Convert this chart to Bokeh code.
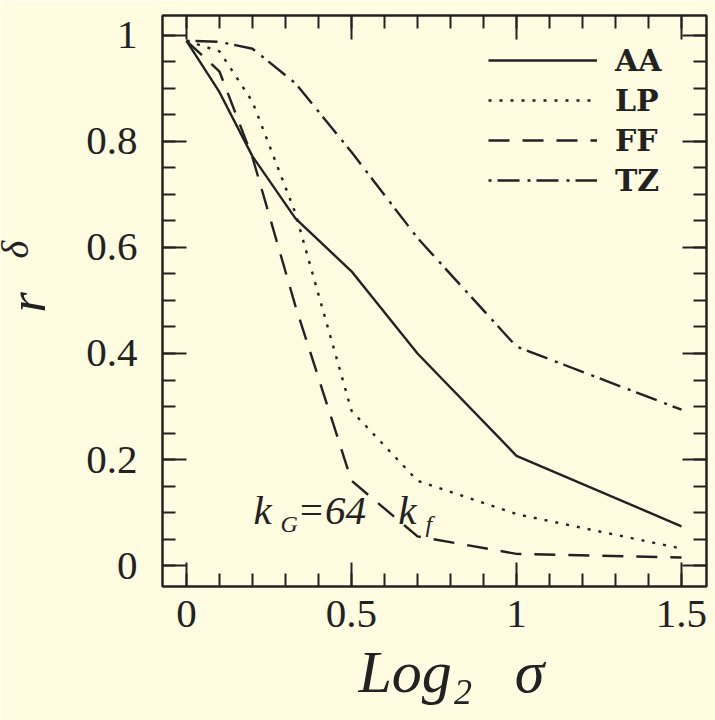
from bokeh.plotting import figure
from bokeh.models import Range1d, FixedTicker, LinearAxis, Label, Legend, LegendItem, Title
from bokeh.embed import file_html
from bokeh.resources import INLINE
import math

# Smoothing scale (log2 sigma) and the cross-correlation coefficient r_delta
log2_sigma = [0.0, 0.1, 0.2, 0.33, 0.5, 0.7, 1.0, 1.5]
r_aa = [0.99, 0.893, 0.772, 0.655, 0.555, 0.400, 0.207, 0.074]
r_lp = [0.99, 0.970, 0.875, 0.665, 0.292, 0.160, 0.097, 0.032]
r_ff = [0.99, 0.932, 0.770, 0.490, 0.160, 0.055, 0.022, 0.015]
r_tz = [0.99, 0.988, 0.975, 0.910, 0.780, 0.618, 0.413, 0.294]

series_names = ["AA", "LP", "FF", "TZ"]
series_values = [r_aa, r_lp, r_ff, r_tz]
series_dash = ["solid", "3 8", "21 13", "3 6 22 8"]

x_major = [0, 0.5, 1, 1.5]
x_minor = [i / 10 for i in range(16)]
y_major = [0, 0.2, 0.4, 0.6, 0.8, 1.0]
y_minor = [i / 20 for i in range(21)]
x_tick_labels = {0: "0", 0.5: "0.5", 1: "1", 1.5: "1.5"}
y_tick_labels = {0: "0", 0.2: "0.2", 0.4: "0.4", 0.6: "0.6", 0.8: "0.8", 1: "1"}

INK = "#222222"
PAPER = "#FFFCE1"
SERIF = "Liberation Serif"

p = figure(
    width=715, height=720,
    x_range=Range1d(-0.0727, 1.5758), y_range=Range1d(-0.0396, 1.0377),
    output_backend="svg", toolbar_location=None,
    min_border_left=162, min_border_right=9, min_border_top=15, min_border_bottom=134,
)
p.background_fill_color = PAPER
p.border_fill_color = PAPER
p.outline_line_color = INK
p.outline_line_width = 2
p.grid.visible = False


def style_axis(ax, ticker, labels, show_labels):
    ax.ticker = ticker
    ax.axis_line_color = INK
    ax.axis_line_width = 2
    ax.major_tick_in = 24
    ax.major_tick_out = 0
    ax.minor_tick_in = 13
    ax.minor_tick_out = 0
    ax.major_tick_line_color = INK
    ax.major_tick_line_width = 2
    ax.minor_tick_line_color = INK
    ax.minor_tick_line_width = 2
    if show_labels:
        ax.major_label_overrides = labels
        ax.major_label_text_font = SERIF
        ax.major_label_text_font_size = "41px"
        ax.major_label_text_color = INK
    else:
        ax.major_label_text_color = None
        ax.major_label_text_font_size = "1px"
        ax.major_label_standoff = 0


xt = FixedTicker(ticks=x_major, minor_ticks=x_minor)
yt = FixedTicker(ticks=y_major, minor_ticks=y_minor)

style_axis(p.xaxis[0], xt, x_tick_labels, True)
p.xaxis[0].major_label_standoff = 14
style_axis(p.yaxis[0], yt, y_tick_labels, True)
p.yaxis[0].major_label_standoff = 25

top_axis = LinearAxis()
style_axis(top_axis, xt, x_tick_labels, False)
p.add_layout(top_axis, "above")
right_axis = LinearAxis()
style_axis(right_axis, yt, y_tick_labels, False)
p.add_layout(right_axis, "right")

items = []
for name, vals, dash in zip(series_names, series_values, series_dash):
    r = p.line(log2_sigma, vals, line_color=INK, line_width=2.4, line_dash=dash)
    items.append(LegendItem(label=name, renderers=[r]))

legend = Legend(
    items=items, location=(326, 386),
    glyph_width=109, glyph_height=40, label_height=40, label_standoff=18,
    spacing=0, padding=0, margin=0,
    border_line_color=None, background_fill_alpha=0,
    label_text_font="DejaVu Serif", label_text_font_size="30px",
    label_text_font_style="bold",
    label_text_baseline="alphabetic", label_text_color=INK,
)
p.add_layout(legend)


def text(x, y, s, size, angle=0.0, place=None):
    lbl = Label(
        x=x, y=y, text=s, angle=angle,
        text_font=SERIF, text_font_style="italic", text_font_size=size,
        text_color=INK, text_align="left", text_baseline="alphabetic",
    )
    if place is None:
        p.add_layout(lbl)
    else:
        p.add_layout(lbl, place)


def title(s, size, offset, standoff):
    return Title(
        text=s, align="left", vertical_align="middle",
        offset=offset, standoff=standoff,
        text_font=SERIF, text_font_style="italic", text_font_size=size,
        text_color=INK,
    )


# x title: Log2 sigma
p.add_layout(title("Log₂\u2002\u2009σ", "60px", 196, 17), "below")
# y title: r with the subscript delta next to the tick labels
# (a label in a side panel is drawn relative to that panel's corner)
text(-0.521, 0.579, "δ", "38px", angle=math.pi / 2, place="left")
p.add_layout(title("r", "52px", 274, -31), "left")

# smoothing note: k_G = 64 k_f
text(0.203, 0.104, "k", "41px")
text(0.285, 0.079, "G", "24px")
text(0.336, 0.104, "=64", "41px")
text(0.642, 0.104, "k", "41px")
text(0.724, 0.079, "f", "24px")

open("out.html", "w").write(file_html(p, INLINE))
